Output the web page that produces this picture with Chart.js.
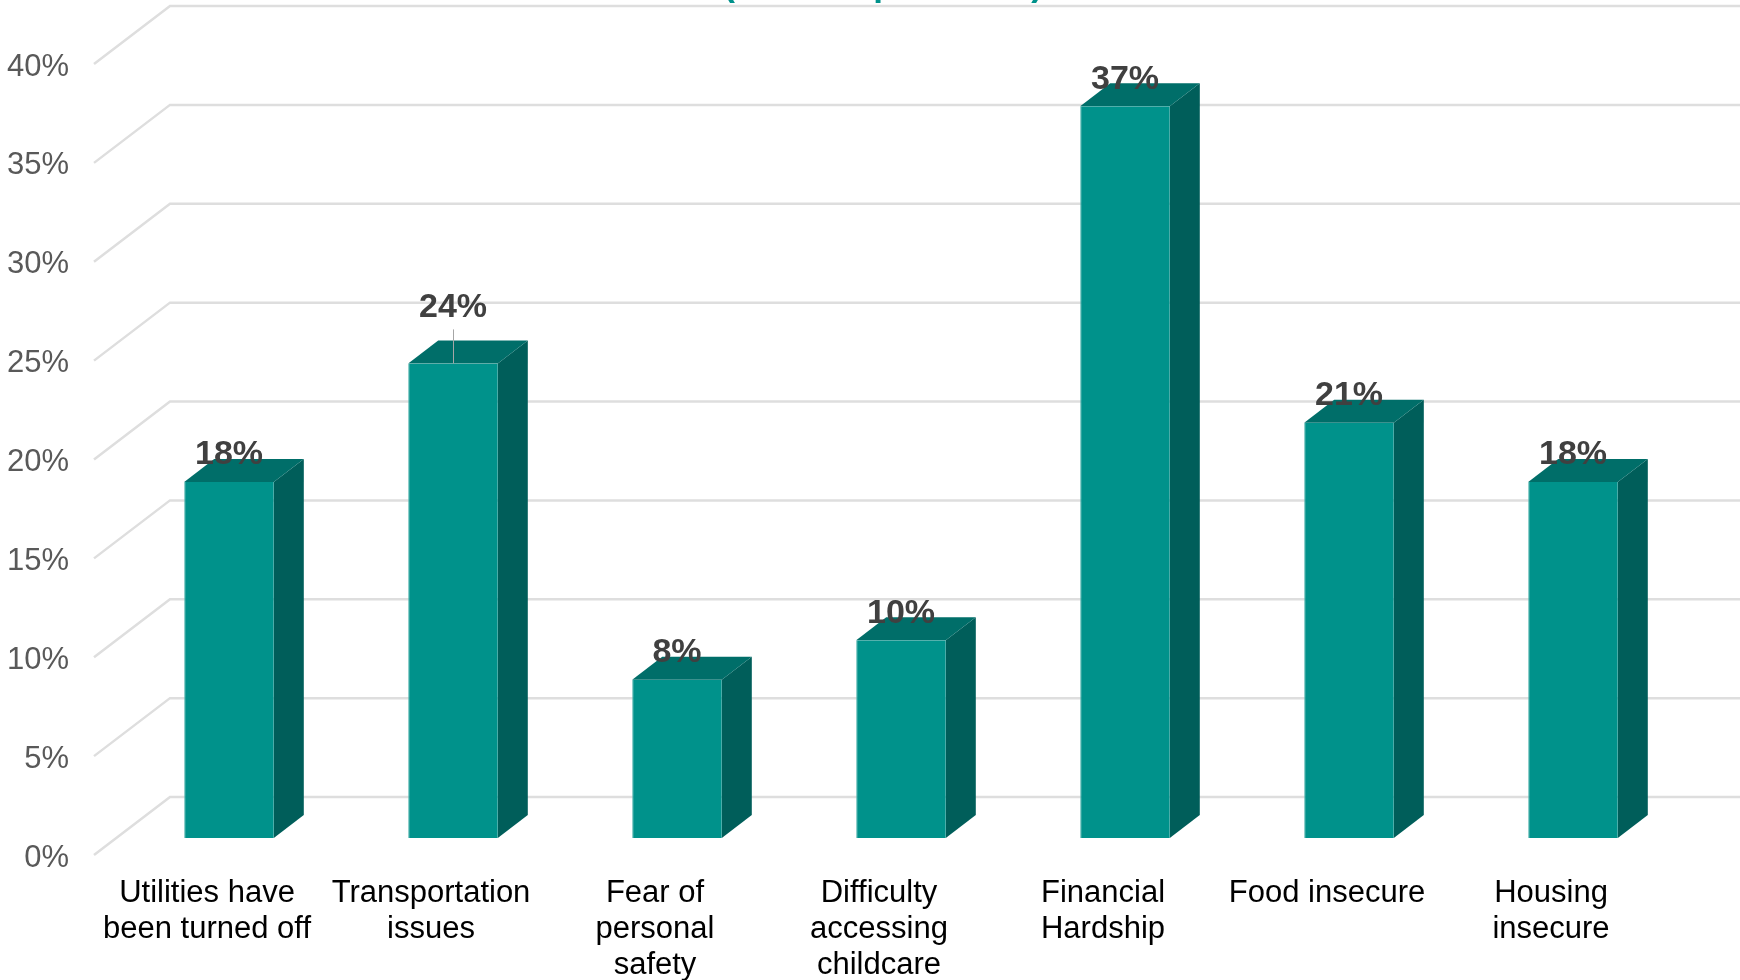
<!DOCTYPE html>
<html>
<head>
<meta charset="utf-8">
<style>
    html, body { margin: 0; padding: 0; background: #fff; overflow: hidden; }
    canvas { display: block; }
</style>
<script src="https://cdn.jsdelivr.net/npm/chart.js@4/dist/chart.umd.min.js"></script>
</head>
<body>
<canvas id="chart" width="1740" height="980"></canvas>
<script>
// Chart data
const categories = [
    ['Utilities have', 'been turned off'],
    ['Transportation', 'issues'],
    ['Fear of', 'personal', 'safety'],
    ['Difficulty', 'accessing', 'childcare'],
    ['Financial', 'Hardship'],
    ['Food insecure'],
    ['Housing', 'insecure'],
];
const percentValues = [18, 24, 8, 10, 37, 21, 18];
const titleFragments = ['(', 'p', ')'];

const FONT = '"Liberation Sans", Arial, sans-serif';
const COLORS = {
    front: '#00928b',
    side: '#005e5a',
    top: '#006e69',
    edge: '#4fb5ae',
    grid: '#dedede',
    title: '#00928b',
};
const DEPTH_X = 30;
const DEPTH_Y = 23;

function poly(ctx, pts, fill) {
    ctx.beginPath();
    pts.forEach((p, i) => i ? ctx.lineTo(p[0], p[1]) : ctx.moveTo(p[0], p[1]));
    ctx.closePath();
    ctx.fillStyle = fill;
    ctx.fill();
}

// Fake 3D: back wall grid + side and top faces of each bar
const depthPlugin = {
    id: 'depth',
    beforeDatasetsDraw(chart) {
        const { ctx, scales: { y } } = chart;
        ctx.save();
        ctx.strokeStyle = COLORS.grid;
        ctx.lineWidth = 2.5;
        y.ticks.forEach(t => {
            const py = y.getPixelForValue(t.value);
            ctx.beginPath();
            ctx.moveTo(94, py + 17);
            ctx.lineTo(170, py - 41);
            ctx.lineTo(1740, py - 41);
            ctx.stroke();
        });

        chart.getDatasetMeta(0).data.forEach(bar => {
            const r = bar.x + bar.width / 2;
            const l = bar.x - bar.width / 2;
            poly(ctx, [[r, bar.base], [r + DEPTH_X, bar.base - DEPTH_Y], [r + DEPTH_X, bar.y - DEPTH_Y], [r, bar.y]], COLORS.side);
            poly(ctx, [[l, bar.y], [l + DEPTH_X, bar.y - DEPTH_Y], [r + DEPTH_X, bar.y - DEPTH_Y], [r, bar.y]], COLORS.top);
        });
        ctx.restore();
    },
    afterDatasetsDraw(chart) {
        const { ctx } = chart;
        ctx.save();
        ctx.textAlign = 'center';
        ctx.textBaseline = 'middle';
        chart.getDatasetMeta(0).data.forEach((bar, i) => {
            // the 24% label sits higher, with a leader line down to the bar
            const lifted = percentValues[i] === 24;
            if (lifted) {
                ctx.strokeStyle = '#a6a6a6';
                ctx.lineWidth = 1;
                ctx.beginPath();
                ctx.moveTo(bar.x + 0.5, bar.y - 34);
                ctx.lineTo(bar.x + 0.5, bar.y);
                ctx.stroke();
            }
            ctx.fillStyle = '#404040';
            ctx.font = 'bold 34px ' + FONT;
            ctx.fillText(percentValues[i] + '%', bar.x, bar.y - (lifted ? 56 : 27));
        });

        // title is cut off by the top of the picture, only the descenders show
        ctx.fillStyle = COLORS.title;
        ctx.font = 'bold 35px ' + FONT;
        ctx.textBaseline = 'alphabetic';
        [729, 884, 1037].forEach((x, i) => ctx.fillText(titleFragments[i], x, -4));
        ctx.restore();
    },
};

new Chart(document.getElementById('chart').getContext('2d'), {
    type: 'bar',
    data: {
        labels: categories,
        datasets: [{
            data: percentValues,
            backgroundColor: COLORS.front,
            borderColor: COLORS.edge,
            borderWidth: { left: 1, right: 0, top: 0, bottom: 1 },
            barPercentage: 0.4,
            categoryPercentage: 1,
        }],
    },
    options: {
        responsive: false,
        animation: false,
        layout: { padding: { top: 47, right: 55, left: 0, bottom: 0 } },
        plugins: {
            legend: { display: false },
            tooltip: { enabled: false },
        },
        scales: {
            x: {
                grid: { display: false, drawTicks: false },
                border: { display: false },
                afterFit: (s) => { s.height = 142; s.paddingLeft = 0; s.paddingRight = 0; },
                ticks: {
                    color: '#000',
                    font: { family: FONT, size: 31, lineHeight: 1.15 },
                    padding: 38,
                    labelOffset: -22,
                    maxRotation: 0,
                    autoSkip: false,
                },
            },
            y: {
                min: 0,
                max: 40,
                grid: { display: false, drawTicks: false },
                border: { display: false },
                afterFit: (s) => { s.width = 117; s.paddingTop = 0; s.paddingBottom = 0; },
                ticks: {
                    stepSize: 5,
                    color: '#595959',
                    font: { family: FONT, size: 31 },
                    padding: 48,
                    labelOffset: 20,
                    callback: (v) => v + '%',
                },
            },
        },
    },
    plugins: [depthPlugin],
});
</script>
</body>
</html>
